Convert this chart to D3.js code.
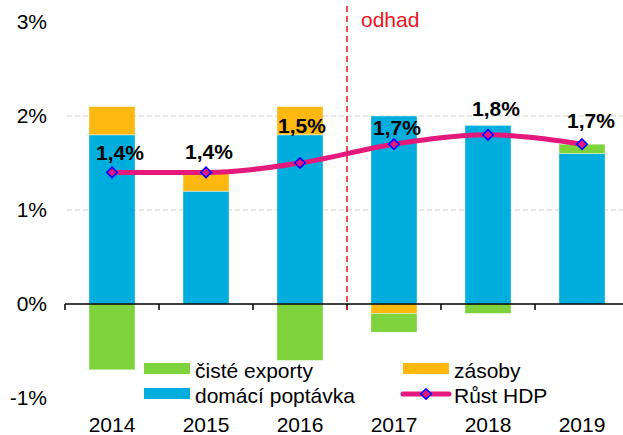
<!DOCTYPE html>
<html><head><meta charset="utf-8">
<script src="https://cdn.jsdelivr.net/npm/d3@7"></script>
<style>body{margin:0;background:#fff}svg{display:block}text{font-family:"Liberation Sans",Arial,sans-serif}</style>
</head><body><svg id="c" width="623" height="435"></svg>
<script>
const years = ["2014","2015","2016","2017","2018","2019"];
const domaciPoptavka = [1.8, 1.2, 1.8, 2.0, 1.9, 1.6];
const zasoby = [0.3, 0.2, 0.3, -0.1, 0.0, 0.0];
const cisteExporty = [-0.7, 0.0, -0.6, -0.2, -0.1, 0.1];
const rustHDP = [1.4, 1.4, 1.5, 1.7, 1.8, 1.7];
const hdpLabels = ["1,4%","1,4%","1,5%","1,7%","1,8%","1,7%"];
const yTicks = [-1, 0, 1, 2, 3];
const yTickLabels = ["-1%","0%","1%","2%","3%"];
const labelNudge = [[8,-12],[3,-13],[2,-30],[3,-9],[8,-19],[9,-16]];

const colors = {dom:"#00ADDC", zas:"#FFB810", exp:"#7ED23C", line:"#E5197C", mk:"#0000FF"};
const svg = d3.select("#c");
const x = d3.scaleBand().domain(years).range([65, 629]).padding(0);
const y = d3.scaleLinear().domain([-1, 3]).range([398, 22]);
const bw = x.bandwidth() * 0.49;

// gridlines
svg.append("g").selectAll("line").data([1, 2]).join("line")
  .attr("x1", 67).attr("x2", 623).attr("y1", d => y(d)).attr("y2", d => y(d))
  .attr("stroke", "#D0D0D0").attr("stroke-width", 1.2).attr("stroke-dasharray", "5,3");

// stacked bars
const rows = years.map((yr, i) => ({year: yr, dom: domaciPoptavka[i], zas: zasoby[i], exp: cisteExporty[i]}));
const stack = d3.stack().keys(["dom", "zas", "exp"]).offset(d3.stackOffsetDiverging);
const series = stack(rows);
svg.append("g").selectAll("g").data(series).join("g")
  .attr("fill", s => colors[s.key])
  .selectAll("rect").data(s => s.filter(d => d[1] - d[0] !== 0)).join("rect")
  .attr("x", d => x(d.data.year) + (x.bandwidth() - bw) / 2)
  .attr("width", bw)
  .attr("y", d => y(Math.max(d[0], d[1])))
  .attr("height", d => Math.abs(y(d[0]) - y(d[1])))
  .attr("stroke", "rgba(255,255,255,0.5)").attr("stroke-width", 0.8);

// zero axis
svg.append("line").attr("x1", 65).attr("x2", 629).attr("y1", y(0)).attr("y2", y(0))
  .attr("stroke", "#000").attr("stroke-width", 1.5);
svg.append("g").selectAll("line").data(years.concat(["end"])).join("line")
  .attr("x1", (d, i) => 65 + i * x.step()).attr("x2", (d, i) => 65 + i * x.step())
  .attr("y1", y(0)).attr("y2", y(0) + 6).attr("stroke", "#000").attr("stroke-width", 1.5);

// x labels
svg.append("g").selectAll("text").data(years).join("text")
  .attr("x", d => x(d) + x.bandwidth() / 2).attr("y", 432)
  .attr("text-anchor", "middle").attr("font-size", 21).attr("fill", "#000").text(d => d);

// y labels
svg.append("g").selectAll("text").data(yTicks).join("text")
  .attr("x", 47).attr("y", d => y(d) + 7)
  .attr("text-anchor", "end").attr("font-size", 21).attr("fill", "#000")
  .text((d, i) => yTickLabels[i]);

// estimate divider
const divX = x("2017");
svg.append("line").attr("x1", divX).attr("x2", divX).attr("y1", 6).attr("y2", y(0) + 6)
  .attr("stroke", "#E8141E").attr("stroke-width", 1.5).attr("stroke-dasharray", "6,4");
svg.append("text").attr("x", 361).attr("y", 27).attr("font-size", 21).attr("fill", "#E8141E").text("odhad");

// GDP line
const cx = d => x(d) + x.bandwidth() / 2;
svg.append("path").datum(years)
  .attr("d", d3.line().x(d => cx(d)).y((d, i) => y(rustHDP[i])).curve(d3.curveMonotoneX))
  .attr("fill", "none").attr("stroke", colors.line).attr("stroke-width", 5).attr("stroke-linejoin", "round");
const diamond = d3.symbol().type(d3.symbolDiamond2).size(70);
svg.append("g").selectAll("path").data(years).join("path")
  .attr("d", diamond)
  .attr("transform", (d, i) => `translate(${cx(d)},${y(rustHDP[i])})`)
  .attr("fill", colors.line).attr("stroke", colors.mk).attr("stroke-width", 1.6);

// labels
svg.append("g").selectAll("text").data(years).join("text")
  .attr("x", (d, i) => cx(d) + labelNudge[i][0])
  .attr("y", (d, i) => y(rustHDP[i]) + labelNudge[i][1])
  .attr("text-anchor", "middle").attr("font-size", 21).attr("font-weight", "bold").attr("fill", "#000")
  .text((d, i) => hdpLabels[i]);

// legend
const lg = svg.append("g");
const items = [
  {t: "čisté exporty", c: colors.exp, x: 144, y: 363, type: "rect"},
  {t: "domácí poptávka", c: colors.dom, x: 144, y: 388, type: "rect"},
  {t: "zásoby", c: colors.zas, x: 403, y: 363, type: "rect"},
  {t: "Růst HDP", c: colors.line, x: 403, y: 388, type: "line"}
];
items.forEach(it => {
  if (it.type === "rect") {
    lg.append("rect").attr("x", it.x).attr("y", it.y).attr("width", 46).attr("height", 11).attr("fill", it.c);
  } else {
    lg.append("line").attr("x1", it.x).attr("x2", it.x + 46).attr("y1", it.y + 6).attr("y2", it.y + 6)
      .attr("stroke", it.c).attr("stroke-width", 5).attr("stroke-linecap", "round");
    lg.append("path").attr("d", diamond).attr("transform", `translate(${it.x + 23},${it.y + 6})`)
      .attr("fill", colors.line).attr("stroke", colors.mk).attr("stroke-width", 1.6);
  }
  lg.append("text").attr("x", it.x + 51).attr("y", it.y + 15).attr("font-size", 21).attr("fill", "#000").text(it.t);
});
</script></body></html>
